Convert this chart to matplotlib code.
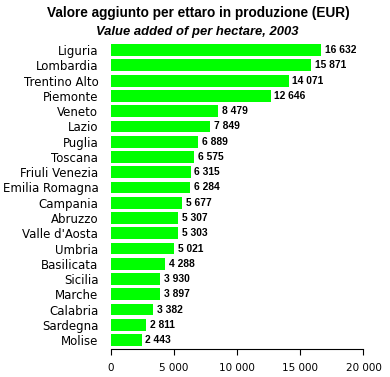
import matplotlib
matplotlib.use('Agg')
import matplotlib.pyplot as plt
import numpy as np

# data
regions = ['Liguria', 'Lombardia', 'Trentino Alto', 'Piemonte', 'Veneto', 'Lazio',
           'Puglia', 'Toscana', 'Friuli Venezia', 'Emilia Romagna', 'Campania',
           'Abruzzo', "Valle d'Aosta", 'Umbria', 'Basilicata', 'Sicilia', 'Marche',
           'Calabria', 'Sardegna', 'Molise']
values = [16632, 15871, 14071, 12646, 8479, 7849, 6889, 6575, 6315, 6284, 5677,
          5307, 5303, 5021, 4288, 3930, 3897, 3382, 2811, 2443]
xticks = [0, 5000, 10000, 15000, 20000]


def fmt(v):
    return '{:,}'.format(v).replace(',', ' ')


lib = ['Liberation Sans', 'DejaVu Sans']

fig = plt.figure(figsize=(3.9, 3.77), dpi=100)
ax = fig.add_axes([0.284, 0.074, 0.648, 0.817])

pos = np.arange(len(regions))
ax.barh(pos, values, height=0.77, color='#00ff00', edgecolor='none')
for p, v in zip(pos, values):
    ax.text(v + 300, p, fmt(v), va='center', ha='left', fontsize=7.4,
            fontweight='bold', family=lib)

ax.set_ylim(len(regions) - 1 + 0.59, -0.59)
ax.set_xlim(0, 20000)
ax.set_yticks(pos)
ax.set_yticklabels(regions, fontsize=8.5)
ax.tick_params(axis='y', length=0, pad=9)
ax.set_xticks(xticks)
ax.set_xticklabels([fmt(t) for t in xticks], fontsize=7.5)
ax.tick_params(axis='x', direction='out', length=4, pad=6)
for s in ['top', 'right', 'left']:
    ax.spines[s].set_visible(False)

fig.text(0.508, 0.966, 'Valore aggiunto per ettaro in produzione (EUR)',
         ha='center', va='center', fontsize=9.8, fontweight='bold', family=lib)
fig.text(0.505, 0.916, 'Value added of per hectare, 2003', ha='center',
         va='center', fontsize=9.4, fontweight='bold', style='italic', family=lib)

fig.savefig('out.png', dpi=100)
